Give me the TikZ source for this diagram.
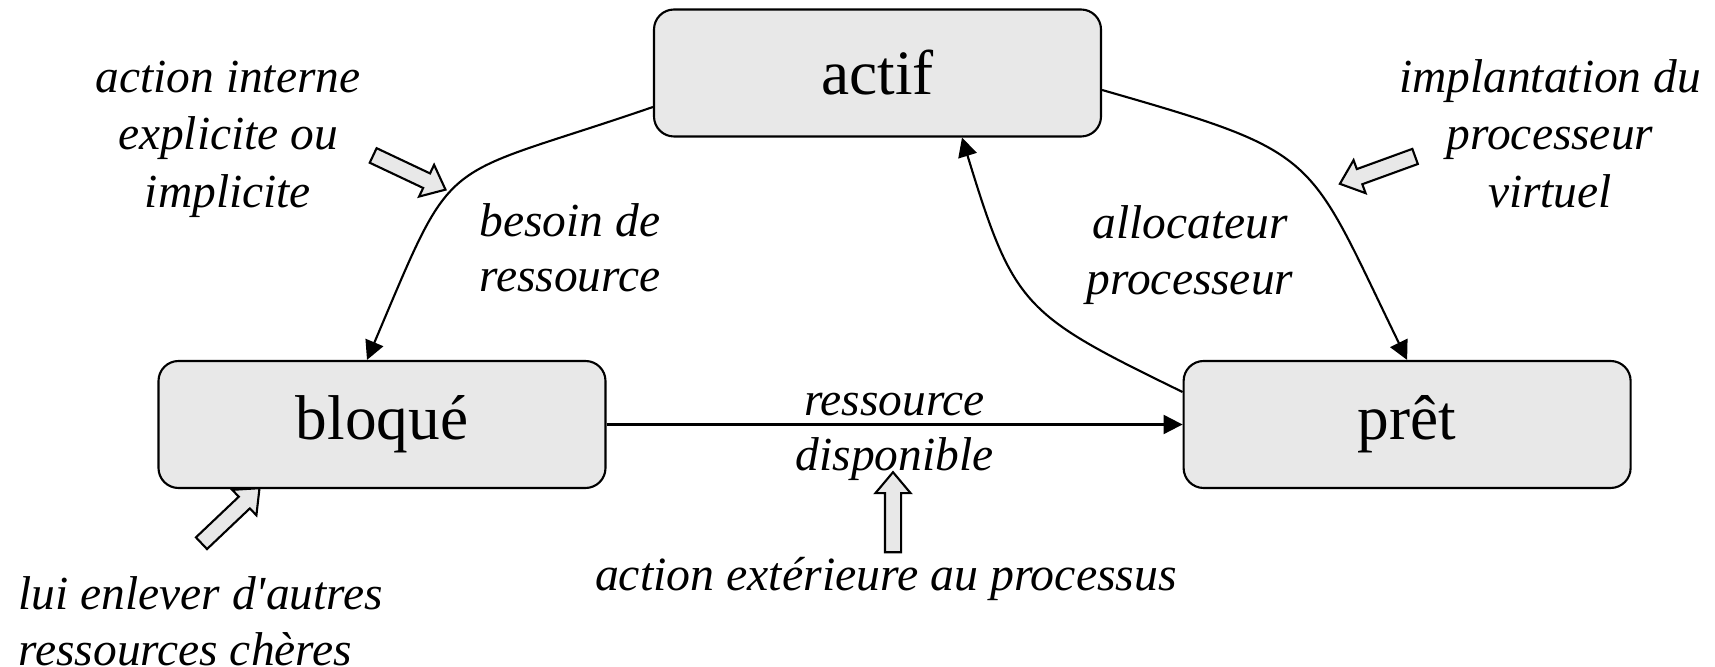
\documentclass[tikz,border=0pt]{standalone}
\usepackage{fontspec}
\setmainfont{Liberation Serif}[Ligatures=TeXOff]
\usepackage{xcolor}
\usepackage{tikz}
\usetikzlibrary{arrows.meta,positioning,shapes.arrows}
\definecolor{etatbg}{HTML}{E8E8E8}

\begin{document}
\begin{tikzpicture}[
  etat/.style={draw,line width=0.6pt,fill=etatbg,rounded corners=2mm,
               minimum width=4.47cm,minimum height=1.27cm,
               font=\fontsize{18}{20}\selectfont},
  lbl/.style={font=\fontsize{13.5}{15.5}\selectfont\itshape,align=center,inner sep=0pt},
  arr/.style={-{Triangle[length=1.9mm,width=1.9mm]},line width=0.6pt},
  fleche/.style={single arrow,draw,line width=0.6pt,fill=etatbg,inner xsep=0pt,
                 inner ysep=0.7mm,minimum height=8mm,minimum width=3.3mm,
                 single arrow head extend=0.95mm,single arrow tip angle=80}
]
\useasboundingbox (0,0) rectangle (17.15,6.67);
\node[etat] (bloque) at (3.82,2.425) {bloqué};
\node[etat,right=5.76cm of bloque] (pret) {prêt};
\node[etat] (actif) at (8.775,5.94) {actif};
\draw[arr] ([yshift=-3.4mm]actif.west) to[out=199,in=67,looseness=1.55] ([xshift=-1.5mm]bloque.north);
\draw[arr] ([yshift=-1.7mm]actif.east) to[out=-16,in=116,looseness=1.45] (pret.north);
\draw[arr] ([yshift=3.25mm]pret.west) to[out=154,in=-73,looseness=1.35] ([xshift=8.45mm]actif.south);
\draw[arr] (bloque) -- (pret) node[lbl,midway,yshift=-1.2mm,font=\fontsize{13.5}{15.6}\selectfont\itshape] (dispo) {ressource\\disponible};
\node[lbl,font=\fontsize{13.5}{16.35}\selectfont\itshape] (interne) at (2.28,5.28) {action interne\\explicite ou\\implicite};
\node[lbl,font=\fontsize{13.5}{15.8}\selectfont\itshape] (besoin) at (5.70,4.19) {besoin de\\ressource};
\node[lbl,font=\fontsize{13.5}{15.9}\selectfont\itshape] (alloc) at (11.90,4.12) {allocateur\\processeur};
\node[lbl,font=\fontsize{13.5}{16.35}\selectfont\itshape] (implant) at (15.50,5.335) {implantation du\\processeur\\virtuel};
\node[lbl,anchor=base,font=\fontsize{13.6}{15.5}\selectfont\itshape] (exterieur) at (8.86,0.765) {action extérieure au processus};
\node[lbl,align=left,anchor=west,font=\fontsize{13.5}{15.9}\selectfont\itshape] (enlever) at (0.18,0.46) {lui enlever d'autres\\ressources chères};
\node[fleche,rotate=-25.3] (f1) at (4.05,4.965) {};
\node[fleche,rotate=200] (f2) at (13.82,4.985) {};
\node[fleche,rotate=43.5] (f3) at (2.27,1.48) {};
\node[fleche,rotate=90] (f4) at (8.93,1.50) {};
\end{tikzpicture}
\end{document}
